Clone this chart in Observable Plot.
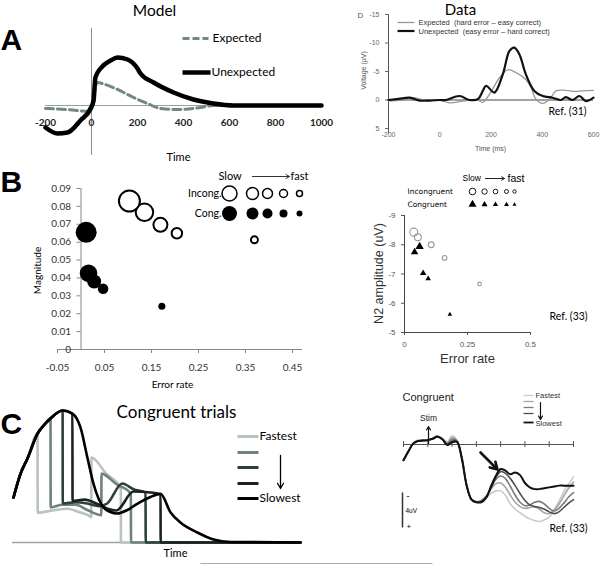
<!DOCTYPE html>
<html><head><meta charset="utf-8">
<script src="https://cdn.jsdelivr.net/npm/d3@7"></script>
<script src="https://cdn.jsdelivr.net/npm/@observablehq/plot@0.6"></script>
<style>
body{margin:0;background:#fff;}
#fig{position:relative;width:600px;height:564px;overflow:hidden;background:#fff;}
#fig > svg{position:absolute;overflow:visible;}
</style></head><body><div id="fig"></div>
<script>
// ---------- Panel A: model ----------
const modelTicks = [-200, 0, 200, 400, 600, 800, 1000];
const modelExpT = [-200, -100, -5, 25, 60, 104, 183, 243, 300, 374, 474, 530, 650, 1000];
const modelExpV = [-3, -4.2, -6, 23, 21, 17, 8, 2, -3, -4, -2, 0, 0, 0];
const modelUnexpT = [-200, -148, -104, -48, -4, 9, 17, 39, 83, 113, 157, 200, 213, 270, 357, 443, 530, 617, 1000];
const modelUnexpV = [-22, -28, -27, -15, -3, 5, 28, 37, 45, 48, 46, 37, 32, 23, 13, 6, 2, 0, 0];

// ---------- Panel A: data (Ref. 31) ----------
const dataTicksX = [-200, 0, 200, 400, 600];
const dataTicksY = [-15, -10, -5, 0, 5];
const dataExpT = [-200, -150, -105, -50, 0, 38, 90, 142, 168, 194, 233, 265, 298, 336, 356, 376, 402, 428, 454, 492, 525, 560, 600];
const dataExpV = [0.2, 0, -0.4, 0.1, 0, 0.5, 0.2, -0.1, 0.4, -1, -3.9, -5.3, -4.8, -3.6, -2.2, -0.1, 0.6, -0.1, -1.6, -1.7, -1.5, -1.6, -1.7];
const dataUnexpT = [-200, -160, -117, -78, -40, 0, 23, 77, 116, 150, 168, 181, 213, 246, 272, 291, 311, 336, 369, 402, 440, 473, 492, 518, 545, 570, 600];
const dataUnexpV = [0, -0.2, -0.4, 0.1, 0.1, 0, 0, -0.7, 0, -0.2, -1.6, -2.5, -1.3, -4.5, -8.6, -9.2, -8, -4.5, -1.6, -0.7, -0.4, 0, -0.5, 0, -0.7, 0.2, -0.4];

// ---------- Panel B: model ----------
const speedRank = [1, 2, 3, 4, 5];
const incongErr = [0.103, 0.135, 0.169, 0.204, 0.369];
const incongMag = [0.083, 0.0767, 0.0697, 0.065, 0.0613];
const congErr = [0.011, 0.016, 0.028, 0.047, 0.172];
const congMag = [0.0655, 0.0426, 0.038, 0.034, 0.0242];
const magTicks = [0, 0.01, 0.02, 0.03, 0.04, 0.05, 0.06, 0.07, 0.08, 0.09];
const errTicks = [-0.05, 0.05, 0.15, 0.25, 0.35, 0.45];

// ---------- Panel B: data (Ref. 33) ----------
const n2IncErr = [0.037, 0.053, 0.106, 0.159, 0.298];
const n2IncAmp = [-8.43, -8.26, -8.0, -7.55, -6.66];
const n2ConErr = [0.06, 0.04, 0.074, 0.094, 0.18];
const n2ConAmp = [-7.94, -7.75, -7.03, -6.84, -5.62];
const n2TicksY = [-9, -8, -7, -6, -5];
const n2TicksX = [0, 0.25, 0.5];

// ---------- Panel C: model (congruent trials), fastest -> slowest ----------
const c1T = [0.35, 2.8, 5.2, 8.7, 8.75, 13.9, 19, 23.6, 26.4, 27.35, 27.4, 32.5, 37.6, 37.65, 100];
const c1A = [34.6, 53, 64.6, 83.8, 23, 24.6, 26, 23, 20.8, 19.5, 65.4, 53, 41.5, 0, 0];
const c2T = [0.35, 2.8, 5.2, 8.7, 10.8, 13.2, 13.25, 17.4, 22, 26, 30.85, 30.9, 36, 41.1, 41.15, 100];
const c2A = [34.6, 53, 64.6, 83.8, 90, 95.4, 27, 29, 29, 25, 21, 53, 45, 37.7, 0, 0];
const c3T = [0.35, 2.8, 5.2, 8.7, 10.8, 13.2, 17.4, 17.45, 22, 26, 30, 32.9, 38.1, 42, 46.2, 46.25, 100];
const c3A = [34.6, 53, 64.6, 83.8, 90, 95.4, 101.5, 30, 31, 30, 28, 30, 45.4, 41, 38.5, 0, 0];
const c4T = [0.35, 2.8, 5.2, 8.7, 10.8, 13.2, 17.4, 20.8, 20.85, 25, 30, 33, 36.1, 42, 47.9, 51.4, 51.45, 100];
const c4A = [34.6, 53, 64.6, 83.8, 90, 95.4, 101.5, 99.2, 32, 33, 29, 26, 24.6, 39.2, 38.5, 37, 0, 0];
const c5T = [0.35, 2.8, 5.2, 8.7, 10.8, 13.2, 17.4, 20.8, 23.6, 26, 28.1, 31.6, 34, 36.3, 39.9, 43.3, 47.9, 51.4, 54.9, 58.3, 64.2, 69.8, 75.7, 100];
const c5A = [34.6, 53, 64.6, 83.8, 90, 95.4, 101.5, 99.2, 88.5, 65.4, 45.4, 26.9, 23.5, 22.3, 25, 29.8, 35, 37.4, 23, 15.4, 7.7, 2.3, 0.4, 0];

// ---------- Panel C: data (Ref. 33), fastest -> slowest ----------
const erpT = [-100,-80,-60,-40,-20,0,20,40,60,80,100,120,140,160,180,200,220,240,260,280,300,320,340,360,380,400,420,440,460,480,500,520,540,560,580,600];
const erp1 = [1.8,0.8,-0.2,-0.5,-0.5,-0.5,-0.7,-1.0,-0.7,-0.3,-1.0,-0.5,1.3,4.5,6.2,6.5,6.4,6.1,5.6,5.3,5.3,5.8,6.8,7.4,7.8,8.2,8.5,8.7,8.8,8.6,8.3,7.5,6.5,5.4,4.5,3.7];
const erp2 = [1.8,0.8,-0.15,-0.45,-0.5,-0.5,-0.7,-0.95,-0.65,-0.2,-0.8,-0.45,1.4,4.6,6.25,6.55,6.4,5.9,5.1,4.5,4.4,4.9,5.8,6.6,7.1,7.3,7.2,7.1,7.4,7.8,7.9,7.5,6.8,5.9,5.0,4.3];
const erp3 = [1.8,0.8,-0.1,-0.4,-0.45,-0.5,-0.65,-0.9,-0.6,-0.1,-0.6,-0.4,1.5,4.65,6.3,6.6,6.45,6.0,5.0,4.0,3.6,3.9,4.8,5.8,6.6,7.0,6.9,6.6,6.5,6.8,7.3,7.6,7.3,6.7,6.0,5.5];
const erp4 = [1.8,0.8,-0.1,-0.4,-0.45,-0.5,-0.65,-0.9,-0.6,0,-0.4,-0.35,1.55,4.7,6.3,6.6,6.5,6.0,5.0,3.8,3.1,3.3,3.9,4.7,5.6,6.4,6.9,7.1,7.2,7.4,7.7,7.9,7.7,7.2,6.7,6.3];
const erp5 = [1.8,0.8,-0.1,-0.4,-0.45,-0.5,-0.65,-0.9,-0.6,0.05,-0.25,-0.3,1.6,4.7,6.3,6.6,6.6,6.1,4.8,3.6,2.8,3.0,3.4,3.2,3.5,4.4,4.9,5.1,5.1,5.0,4.9,4.8,4.7,4.7,4.7,4.7];
const erpTicks = [-100, 0, 100, 200, 300, 400, 500, 600];

// ---------- styling ----------
const FL = "Lato, 'Open Sans', sans-serif";
const FA = "'Liberation Sans', Arial, sans-serif";
const FD = "'DejaVu Sans', sans-serif";
const modelColors = ["#b8c2bf", "#70827e", "#2e403d", "#1b2321", "#000000"];
const erpColors = ["#cacaca", "#a5a5a5", "#7a7a7a", "#4d4d4d", "#111111"];

const zip = (xs, ys) => xs.map((v, i) => ({x: v, y: ys[i]}));
const fig = document.getElementById("fig");
function place(svg, left, top) {
  svg.style.position = "absolute";
  svg.style.left = left + "px";
  svg.style.top = top + "px";
  svg.style.background = "transparent";
  svg.style.overflow = "visible";
  svg.style.maxWidth = "none";
  fig.appendChild(svg);
}

// Panel A model plot
place(Plot.plot({
  width: 340, height: 170, marginLeft: 45, marginRight: 19, marginTop: 28, marginBottom: 15,
  x: {domain: [-200, 1000], axis: null},
  y: {domain: [-50, 77], axis: null},
  style: {fontFamily: FL},
  marks: [
    Plot.ruleX([0], {stroke: "#8c8c8c", strokeWidth: 1}),
    Plot.ruleY([0], {stroke: "#8fa59c", strokeWidth: 1}),
    Plot.line(zip(modelExpT, modelExpV), {x: "x", y: "y", stroke: "#6f8a80", strokeWidth: 3, strokeDasharray: "8,4", curve: "monotone-x"}),
    Plot.line(zip(modelUnexpT, modelUnexpV), {x: "x", y: "y", stroke: "#000", strokeWidth: 4.5, curve: "monotone-x"}),
    Plot.text(modelTicks, {x: d => d, y: 0, dy: 17, text: d => String(d), fontWeight: "bold", fontSize: 10, fill: "#222"})
  ]
}), 0, 0);

// Panel A data plot
place(Plot.plot({
  width: 300, height: 160, marginLeft: 88, marginRight: 7, marginTop: 14, marginBottom: 32,
  x: {domain: [-200, 600]},
  y: {domain: [5, -15]},
  style: {fontFamily: FA, color: "#666"},
  marks: [
    Plot.axisY({ticks: dataTicksY, tickSize: 3, tickFormat: d => String(d), fontSize: 7, label: null}),
    Plot.axisX({ticks: dataTicksX, tickSize: 0, tickPadding: 4, tickFormat: d => String(d), fontSize: 7, label: null}),
    Plot.ruleX([-200], {stroke: "#555", insetBottom: -5}),
    Plot.ruleY([0], {stroke: "#444", strokeWidth: 1}),
    Plot.line(zip(dataExpT, dataExpV), {x: "x", y: "y", stroke: "#999", strokeWidth: 1.3, curve: "catmull-rom"}),
    Plot.line(zip(dataUnexpT, dataUnexpV), {x: "x", y: "y", stroke: "#111", strokeWidth: 2.2, curve: "catmull-rom"})
  ]
}), 300, 0);

// Panel B model plot
const incongPts = speedRank.map((r, i) => ({rank: r, err: incongErr[i], mag: incongMag[i]}));
const congPts = speedRank.map((r, i) => ({rank: r, err: congErr[i], mag: congMag[i]}));
place(Plot.plot({
  width: 310, height: 220, marginLeft: 57, marginRight: 18, marginTop: 18, marginBottom: 41,
  x: {domain: [-0.05, 0.45], axis: null},
  y: {domain: [0, 0.09], axis: null},
  r: {type: "linear", domain: [1, 5], range: [10.5, 3.5]},
  style: {fontFamily: FL},
  marks: [
    Plot.ruleX([0], {stroke: "#868686"}),
    Plot.ruleY([0], {stroke: "#868686", insetRight: -10}),
    Plot.ruleY(magTicks, {y: d => d, x1: 0, x2: 0, insetLeft: -4, stroke: "#868686"}),
    Plot.ruleX(errTicks, {x: d => d, y1: 0, y2: 0, insetBottom: -4, stroke: "#868686"}),
    Plot.text(magTicks, {x: 0, y: d => d, dx: -10, textAnchor: "end", text: d => d === 0 ? "0" : d.toFixed(2), fontSize: 10, fill: "#333"}),
    Plot.text(errTicks, {x: d => d, y: 0, dy: 18, text: d => d.toFixed(2), fontSize: 10, fill: "#333"}),
    Plot.dot(congPts, {x: "err", y: "mag", r: "rank", fill: "#000"}),
    Plot.dot(incongPts, {x: "err", y: "mag", r: "rank", fill: "#fff", stroke: "#000", strokeWidth: 2})
  ]
}), 0, 170);

// Panel B data plot (circles + axes), then triangles on an identical frame
const n2Inc = speedRank.map((r, i) => ({rank: r, err: n2IncErr[i], amp: n2IncAmp[i]}));
const n2Con = speedRank.map((r, i) => ({rank: r, err: n2ConErr[i], amp: n2ConAmp[i]}));
const n2Base = {width: 260, height: 190, marginLeft: 104, marginRight: 30, marginTop: 45, marginBottom: 28};
place(Plot.plot({
  ...n2Base,
  x: {domain: [0, 0.5]}, y: {domain: [-5, -9]},
  r: {type: "linear", domain: [1, 5], range: [4, 1.8]},
  style: {fontFamily: FA, color: "#555"},
  marks: [
    Plot.axisY({ticks: n2TicksY, tickSize: 3, tickFormat: d => String(d), fontSize: 8, label: null}),
    Plot.axisX({ticks: n2TicksX, tickSize: 3, tickFormat: d => String(d), fontSize: 8, label: null}),
    Plot.ruleX([0], {stroke: "#444"}),
    Plot.ruleY([-5], {stroke: "#444"}),
    Plot.dot(n2Inc, {x: "err", y: "amp", r: "rank", stroke: "#9a9a9a", strokeWidth: 1.1})
  ]
}), 300, 170);
place(Plot.plot({
  ...n2Base,
  x: {domain: [0, 0.5], axis: null}, y: {domain: [-5, -9], axis: null},
  r: {type: "linear", domain: [1, 5], range: [3.1, 1.7]},
  marks: [
    Plot.dot(n2Con, {x: "err", y: "amp", r: "rank", symbol: "triangle", fill: "#000"})
  ]
}), 300, 170);

// Panel C model plot
const modelCurves = [[c1T, c1A], [c2T, c2A], [c3T, c3A], [c4T, c4A], [c5T, c5A]];
place(Plot.plot({
  width: 300, height: 194, marginLeft: 12, marginRight: 0, marginTop: 42, marginBottom: 22,
  x: {domain: [0, 100], axis: null},
  y: {domain: [0, 100], axis: null},
  marks: [
    Plot.ruleY([0], {stroke: "#9aa5a2", strokeWidth: 1.5}),
    ...modelCurves.map(([T, A], i) => Plot.line(zip(T, A), {x: "x", y: "y", stroke: modelColors[i], strokeWidth: 2.6, curve: "monotone-x"}))
  ]
}), 0, 370);

// Panel C data plot
const erpCurves = [erp1, erp2, erp3, erp4, erp5];
place(Plot.plot({
  width: 200, height: 160, marginLeft: 13, marginRight: 17, marginTop: 46.5, marginBottom: 8.5,
  x: {domain: [-100, 600], axis: null},
  y: {domain: [10, -2], axis: null},
  marks: [
    Plot.ruleY([0], {stroke: "#555"}),
    Plot.ruleX(erpTicks, {x: d => d, y1: 0, y2: 0, insetTop: -3, insetBottom: -3, stroke: "#555"}),
    ...erpCurves.map((V, i) => Plot.line(zip(erpT, V), {x: "x", y: "y", stroke: erpColors[i], strokeWidth: i === 4 ? 2 : 1.6, curve: "catmull-rom"}))
  ]
}), 390, 380);

// ---------- annotations overlay (titles, legends, arrows) ----------
const notes = [
  {x: 154, y: 10.5, t: "Model", s: 15.5, f: FL},
  {x: 0, y: 40, t: "A", s: 30, w: "bold", a: "start", f: FA},
  {x: 212, y: 38, t: "Expected", s: 12, a: "start", f: FL},
  {x: 211, y: 72, t: "Unexpected", s: 12, a: "start", f: FL},
  {x: 178, y: 157, t: "Time", s: 11, f: FL},
  {x: 460, y: 9.5, t: "Data", s: 15, f: FL},
  {x: 357, y: 15, t: "D", s: 8, a: "start", f: FA, c: "#555"},
  {x: 418, y: 22.5, t: "Expected  (hard error \u2013 easy correct)", s: 7.5, a: "start", f: FA, c: "#333"},
  {x: 418, y: 31, t: "Unexpected  (easy error \u2013 hard correct)", s: 7.5, a: "start", f: FA, c: "#333"},
  {x: 363, y: 70, t: "Voltage (\u00b5V)", s: 7, r: -90, f: FA, c: "#555"},
  {x: 490, y: 148, t: "Time (ms)", s: 7, f: FA, c: "#555"},
  {x: 548, y: 111, t: "Ref. (31)", s: 10.5, a: "start", f: FL},
  {x: 0, y: 182, t: "B", s: 30, w: "bold", a: "start", f: FA},
  {x: 37, y: 270, t: "Magnitude", s: 10, r: -90, f: FL},
  {x: 172, y: 384, t: "Error rate", s: 10, f: FL},
  {x: 218, y: 176, t: "Slow", s: 11, a: "start", f: FL},
  {x: 290, y: 176, t: "fast", s: 11, a: "start", f: FL},
  {x: 221, y: 193, t: "Incong.", s: 10.5, a: "end", f: FL},
  {x: 221, y: 213, t: "Cong.", s: 10.5, a: "end", f: FL},
  {x: 462, y: 178, t: "Slow", s: 8.5, a: "start", f: FA},
  {x: 507, y: 178, t: "fast", s: 10.5, a: "start", f: FA},
  {x: 407, y: 191, t: "Incongruent", s: 7.5, a: "start", f: FD},
  {x: 407, y: 204, t: "Congruent", s: 7.5, a: "start", f: FD},
  {x: 378, y: 273, t: "N2 amplitude (uV)", s: 12.5, r: -90, f: FA, c: "#333"},
  {x: 467, y: 358, t: "Error rate", s: 13, f: FA, c: "#333"},
  {x: 549, y: 316, t: "Ref. (33)", s: 10.5, a: "start", f: FL},
  {x: 0, y: 424, t: "C", s: 30, w: "bold", a: "start", f: FA},
  {x: 176, y: 412, t: "Congruent trials", s: 17, f: FL},
  {x: 259, y: 436, t: "Fastest", s: 12, a: "start", f: FL},
  {x: 259, y: 498, t: "Slowest", s: 12, a: "start", f: FL},
  {x: 175, y: 553, t: "Time", s: 11, f: FL},
  {x: 402, y: 397, t: "Congruent", s: 11, a: "start", f: FA, c: "#222"},
  {x: 535, y: 395, t: "Fastest", s: 7.5, a: "start", f: FA, c: "#333"},
  {x: 535, y: 423, t: "Slowest", s: 7.5, a: "start", f: FA, c: "#333"},
  {x: 428, y: 418, t: "Stim", s: 8.5, f: FA, c: "#222"},
  {x: 406, y: 496, t: "-", s: 9, a: "start", f: FA},
  {x: 405, y: 510, t: "4uV", s: 6.5, a: "start", f: FA},
  {x: 406, y: 526, t: "+", s: 8, a: "start", f: FA},
  {x: 549, y: 528, t: "Ref. (33)", s: 10.5, a: "start", f: FL}
];
const seg = (x1, y1, x2, y2, o) => Plot.link([0], {x1, y1, x2, y2, ...o});
const arr = (x1, y1, x2, y2, o) => Plot.arrow([0], {x1, y1, x2, y2, ...o});
const legBx = [229, 252, 267, 283, 299], legBr = [7.5, 6, 5, 4, 3];
const legRx = [472, 484, 495, 506, 514], legRc = [3.3, 2.7, 2.3, 2, 1.7], legRt = [3, 2.3, 2, 1.8, 1.5];
const legCy = [436, 452, 467, 483, 498];
const legEy = [395, 401, 407, 413, 422];
const overlayMarks = [
  ...notes.map(n => Plot.text([n.t], {x: n.x, y: n.y, text: d => d, fontSize: n.s, fontWeight: n.w || "normal",
      textAnchor: n.a || "middle", fontFamily: n.f, rotate: n.r || 0, fill: n.c || "#000"})),
  seg(182, 38, 208, 38, {stroke: "#6f8a80", strokeWidth: 3, strokeDasharray: "7,3"}),
  seg(182, 72, 210, 72, {stroke: "#000", strokeWidth: 4.5}),
  seg(397, 22, 414, 22, {stroke: "#999", strokeWidth: 1.3}),
  seg(397, 30.5, 414, 30.5, {stroke: "#111", strokeWidth: 2.2}),
  arr(252, 176, 289, 176, {stroke: "#333", strokeWidth: 1, headLength: 6}),
  ...legBx.map((x, i) => Plot.dot([0], {x, y: 193, r: legBr[i], fill: "#fff", stroke: "#000", strokeWidth: 1.5})),
  ...legBx.map((x, i) => Plot.dot([0], {x, y: 213, r: legBr[i], fill: "#000"})),
  arr(485, 178, 504, 178, {stroke: "#222", strokeWidth: 1, headLength: 5}),
  ...legRx.map((x, i) => Plot.dot([0], {x, y: 191, r: legRc[i], stroke: "#000", strokeWidth: 0.9})),
  ...legRx.map((x, i) => Plot.dot([0], {x, y: 204, r: legRt[i], symbol: "triangle", fill: "#000"})),
  ...legCy.map((y, i) => seg(237, y, 258, y, {stroke: modelColors[i], strokeWidth: 3})),
  arr(280, 455, 280, 488, {stroke: "#000", strokeWidth: 1.3, headLength: 7}),
  ...legEy.map((y, i) => seg(523, y, 533, y, {stroke: erpColors[i], strokeWidth: i === 4 ? 1.8 : 1.3})),
  arr(540, 402, 540, 419, {stroke: "#111", strokeWidth: 1.2, headLength: 5}),
  arr(428, 443, 428, 426, {stroke: "#111", strokeWidth: 1.2, headLength: 5}),
  arr(480, 452, 497, 469, {stroke: "#111", strokeWidth: 2.6, headLength: 8}),
  seg(402, 492, 402, 527, {stroke: "#333", strokeWidth: 1.5}),
  seg(200, 563, 432, 563, {stroke: "#aaa", strokeWidth: 1})
];
place(Plot.plot({
  width: 600, height: 564, margin: 0,
  x: {type: "identity", axis: null},
  y: {type: "identity", axis: null},
  marks: overlayMarks
}), 0, 0);
</script></body></html>
